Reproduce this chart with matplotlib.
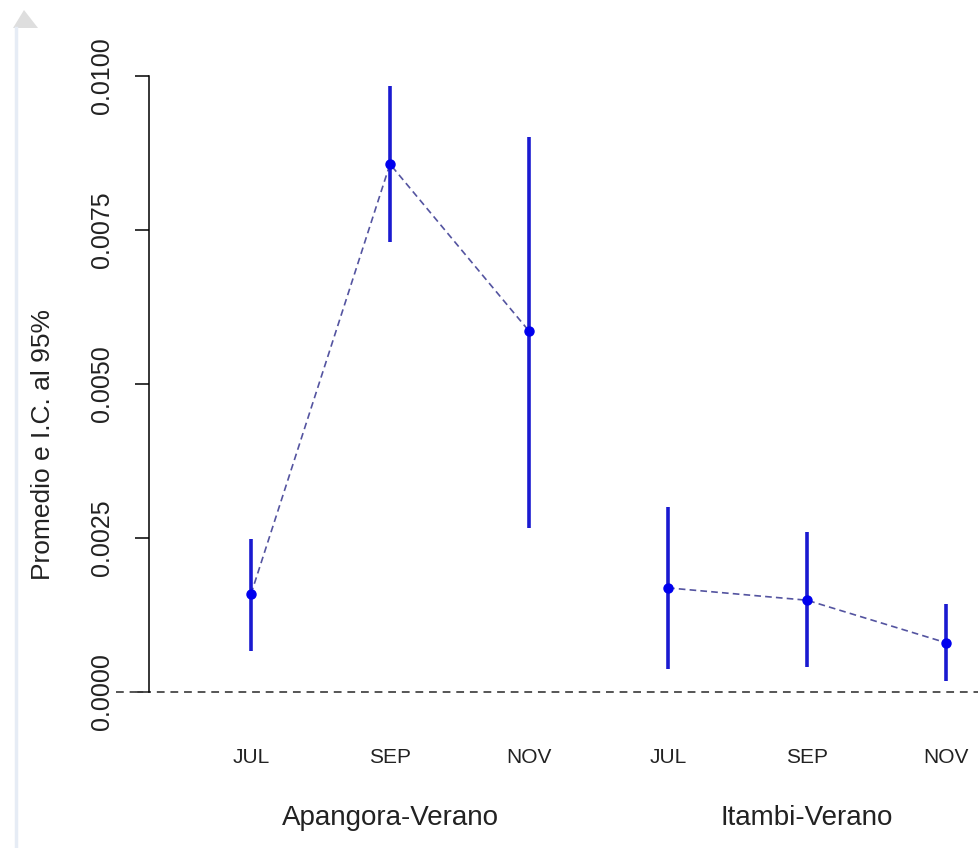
import numpy as np
import matplotlib
matplotlib.use("Agg")
import matplotlib.pyplot as plt
from matplotlib.lines import Line2D
from matplotlib.patches import Polygon


plt.rcParams['font.family'] = ['Liberation Sans', 'DejaVu Sans']

# data
months = ["JUL", "SEP", "NOV", "JUL", "SEP", "NOV"]
groups = ["Apangora-Verano", "Itambi-Verano"]
means = [0.00159, 0.00857, 0.00586, 0.00169, 0.00149, 0.00080]
ci_low = [0.00067, 0.00731, 0.00266, 0.00037, 0.00041, 0.00018]
ci_high = [0.00248, 0.00984, 0.00901, 0.00300, 0.00260, 0.00143]

W, H = 979, 848
fig = plt.figure(figsize=(W / 100, H / 100), dpi=100)

# axes box in pixels: y axis at x=149, y from 76 (top) to 692 (zero)
ax = fig.add_axes([149 / W, (H - 692) / H, 1 - 149 / W, (692 - 76) / H])

x = np.arange(1, 7)
ax.set_xlim(1 - 102 / 139.0, 1 + (W - 149 - 102) / 139.0)
ax.set_ylim(0, 0.01)

line_col = '#5454a0'
bar_col = '#1a1ad0'
pt_col = '#0000ee'

for g in range(2):
    idx = slice(3 * g, 3 * g + 3)
    ax.plot(x[idx], means[idx], ls=(0, (4, 2.5)), color=line_col, lw=1.2, zorder=2)

ax.vlines(x, ci_low, ci_high, color=bar_col, lw=2.6, zorder=3)
ax.plot(x, means, 'o', color=pt_col, ms=6.5, zorder=4)

ax.axhline(0, color='#555555', ls=(0, (4, 3)), lw=1.4, xmin=-0.04, clip_on=False)

for s in ['top', 'right', 'bottom']:
    ax.spines[s].set_visible(False)
ax.spines['left'].set_linewidth(1.1)

yt = [0.0, 0.0025, 0.005, 0.0075, 0.01]
ax.set_yticks(yt)
ax.set_yticklabels(["%.4f" % v for v in yt], rotation=90, va='center', fontsize=18, color='#222222')
ax.tick_params(axis='y', length=10, width=1.1, pad=15)

ax.set_xticks(x)
ax.set_xticklabels(months, fontsize=15, color='#222222')
ax.tick_params(axis='x', length=0, pad=40)

ax.set_ylabel("Promedio e I.C. al 95%", fontsize=19, color='#222222')
ax.yaxis.set_label_coords((55 - 149) / 830, (692 - 445) / 616)

for g, name in enumerate(groups):
    ax.annotate(name, xy=(x[3 * g + 1], 0), xycoords=('data', 'axes fraction'),
                xytext=(0, -126), textcoords='offset pixels', ha='center', va='center',
                fontsize=20, color='#222222')

# faint screenshot chrome at the left edge
fig.add_artist(Line2D([15.5 / W, 15.5 / W], [0, 1 - 28 / H], transform=fig.transFigure,
                      color='#e6ecf5', lw=2.5))
fig.add_artist(Polygon([[13 / W, 1 - 28 / H], [24 / W, 1 - 10 / H], [38 / W, 1 - 28 / H]],
                       closed=True, transform=fig.transFigure, color='#dedede', lw=0))

fig.savefig("out.png", dpi=100)
